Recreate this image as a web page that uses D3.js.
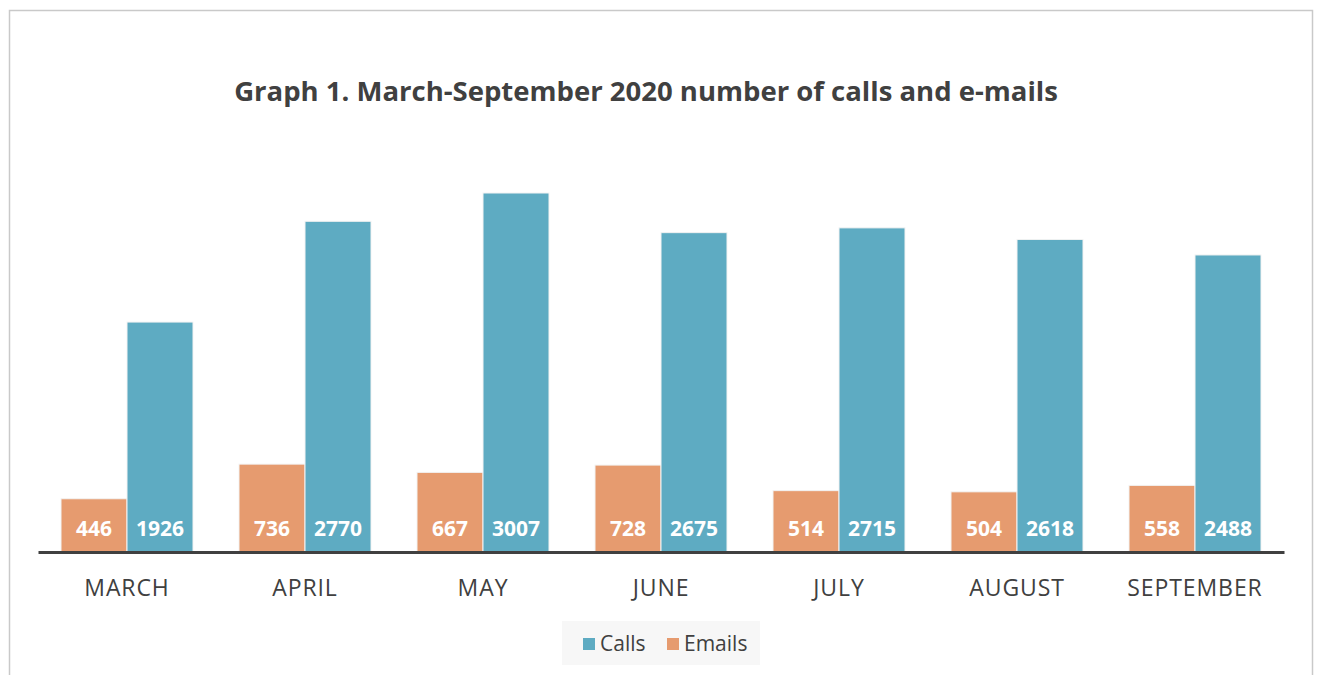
<!DOCTYPE html>
<html><head><meta charset="utf-8">
<script src="https://cdn.jsdelivr.net/npm/d3@7"></script>
<style>body{margin:0;background:#fff}svg{display:block}</style>
</head><body>
<script>
const months = ["MARCH","APRIL","MAY","JUNE","JULY","AUGUST","SEPTEMBER"];
const seriesNames = ["Emails","Calls"];
const calls = [1926,2770,3007,2675,2715,2618,2488];
const emails = [446,736,667,728,514,504,558];
const colors = {Calls:"#5eabc2", Emails:"#e69b6f"};

const W=1317,H=675;
const svg=d3.select("body").append("svg").attr("width",W).attr("height",H);
const font="'Open Sans', Lato, sans-serif";
svg.append("rect").attr("x",9.5).attr("y",10.5).attr("width",1303).attr("height",700)
  .attr("fill","#fff").attr("stroke","#c9c9c9").attr("stroke-width",1.5);

svg.append("text").attr("x",646).attr("y",101).attr("text-anchor","middle")
  .attr("font-family",font).attr("font-weight","bold").attr("font-size",27.5)
  .attr("fill","#404040").text("Graph 1. March-September 2020 number of calls and e-mails");

const x0=d3.scaleBand().domain(months).range([38,1284]).paddingInner(0.2584).paddingOuter(0.1292);
const x1=d3.scaleBand().domain(seriesNames).range([0,x0.bandwidth()]);
const y=d3.scaleLinear().domain([0,3007]).range([552,193]);

const data=months.map((m,i)=>({m,vals:[{k:"Emails",v:emails[i]},{k:"Calls",v:calls[i]}]}));
const g=svg.append("g").selectAll("g").data(data).join("g").attr("transform",d=>`translate(${x0(d.m)},0)`);
g.selectAll("rect").data(d=>d.vals).join("rect")
  .attr("x",d=>x1(d.k)).attr("width",x1.bandwidth())
  .attr("y",d=>y(d.v)).attr("height",d=>y(0)-y(d.v))
  .attr("fill",d=>colors[d.k]).attr("stroke","#f3f3f3").attr("stroke-width",1);
g.selectAll("text").data(d=>d.vals).join("text")
  .attr("x",d=>x1(d.k)+x1.bandwidth()/2).attr("y",536)
  .attr("text-anchor","middle").attr("font-family",font).attr("font-weight","bold")
  .attr("font-size",21).attr("fill","#fff").text(d=>d.v);

const xAxis=svg.append("g").attr("transform","translate(0,552)")
  .call(d3.axisBottom(x0).tickSize(0).tickPadding(28));
xAxis.select(".domain").attr("stroke","#404040").attr("stroke-width",3);
xAxis.selectAll("text").attr("font-family",font).attr("font-size",23).attr("letter-spacing",0.9).attr("fill","#404040");

const lg=svg.append("g");
lg.append("rect").attr("x",562).attr("y",621).attr("width",198).attr("height",44).attr("fill","#f7f7f7");
const items=[{k:"Calls",x:583},{k:"Emails",x:667}];
items.forEach(it=>{
  lg.append("rect").attr("x",it.x).attr("y",638).attr("width",12).attr("height",12).attr("fill",colors[it.k]);
  lg.append("text").attr("x",it.x+17).attr("y",651).attr("font-family",font).attr("font-size",21)
    .attr("fill","#404040").text(it.k);
});
</script>
</body></html>
